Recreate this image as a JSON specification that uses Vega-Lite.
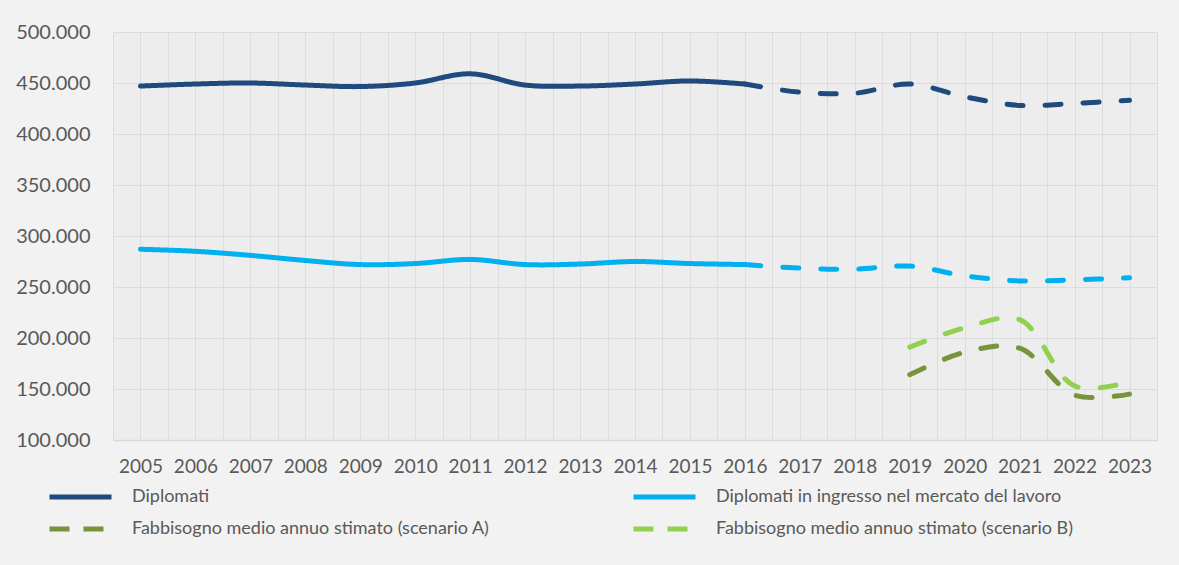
{
  "$schema": "https://vega.github.io/schema/vega-lite/v6.json",
  "width": 1044,
  "height": 408,
  "autosize": {"type": "none"},
  "padding": {"left": 113, "top": 32, "right": 22, "bottom": 125},
  "background": "#f2f2f2",
  "config": {
    "locale": {"number": {"decimal": ",", "thousands": ".", "grouping": [3], "currency": ["", " €"]}},
    "font": "Lato",
    "view": {"fill": "#ededed", "stroke": null},
    "axis": {"labelColor": "#595959", "labelFont": "Lato", "gridColor": "#dcdcdc", "gridWidth": 1}
  },
  "data": {
    "values": [
      {"year": 2005, "series": "Diplomati", "segment": "storico", "value": 447000},
      {"year": 2006, "series": "Diplomati", "segment": "storico", "value": 449000},
      {"year": 2007, "series": "Diplomati", "segment": "storico", "value": 450000},
      {"year": 2008, "series": "Diplomati", "segment": "storico", "value": 448000},
      {"year": 2009, "series": "Diplomati", "segment": "storico", "value": 446500},
      {"year": 2010, "series": "Diplomati", "segment": "storico", "value": 450000},
      {"year": 2011, "series": "Diplomati", "segment": "storico", "value": 459000},
      {"year": 2012, "series": "Diplomati", "segment": "storico", "value": 448000},
      {"year": 2013, "series": "Diplomati", "segment": "storico", "value": 447000},
      {"year": 2014, "series": "Diplomati", "segment": "storico", "value": 449000},
      {"year": 2015, "series": "Diplomati", "segment": "storico", "value": 452000},
      {"year": 2016, "series": "Diplomati", "segment": "storico", "value": 449000},
      {"year": 2016, "series": "Diplomati", "segment": "previsione", "value": 449000},
      {"year": 2017, "series": "Diplomati", "segment": "previsione", "value": 441000},
      {"year": 2018, "series": "Diplomati", "segment": "previsione", "value": 440000},
      {"year": 2019, "series": "Diplomati", "segment": "previsione", "value": 449000},
      {"year": 2020, "series": "Diplomati", "segment": "previsione", "value": 436500},
      {"year": 2021, "series": "Diplomati", "segment": "previsione", "value": 428000},
      {"year": 2022, "series": "Diplomati", "segment": "previsione", "value": 430000},
      {"year": 2023, "series": "Diplomati", "segment": "previsione", "value": 433000},
      {"year": 2005, "series": "Diplomati in ingresso nel mercato del lavoro", "segment": "storico", "value": 287000},
      {"year": 2006, "series": "Diplomati in ingresso nel mercato del lavoro", "segment": "storico", "value": 285000},
      {"year": 2007, "series": "Diplomati in ingresso nel mercato del lavoro", "segment": "storico", "value": 281000},
      {"year": 2008, "series": "Diplomati in ingresso nel mercato del lavoro", "segment": "storico", "value": 276000},
      {"year": 2009, "series": "Diplomati in ingresso nel mercato del lavoro", "segment": "storico", "value": 272000},
      {"year": 2010, "series": "Diplomati in ingresso nel mercato del lavoro", "segment": "storico", "value": 273000},
      {"year": 2011, "series": "Diplomati in ingresso nel mercato del lavoro", "segment": "storico", "value": 277000},
      {"year": 2012, "series": "Diplomati in ingresso nel mercato del lavoro", "segment": "storico", "value": 272000},
      {"year": 2013, "series": "Diplomati in ingresso nel mercato del lavoro", "segment": "storico", "value": 272500},
      {"year": 2014, "series": "Diplomati in ingresso nel mercato del lavoro", "segment": "storico", "value": 275000},
      {"year": 2015, "series": "Diplomati in ingresso nel mercato del lavoro", "segment": "storico", "value": 273000},
      {"year": 2016, "series": "Diplomati in ingresso nel mercato del lavoro", "segment": "storico", "value": 272000},
      {"year": 2016, "series": "Diplomati in ingresso nel mercato del lavoro", "segment": "previsione", "value": 272000},
      {"year": 2017, "series": "Diplomati in ingresso nel mercato del lavoro", "segment": "previsione", "value": 268500},
      {"year": 2018, "series": "Diplomati in ingresso nel mercato del lavoro", "segment": "previsione", "value": 267500},
      {"year": 2019, "series": "Diplomati in ingresso nel mercato del lavoro", "segment": "previsione", "value": 270500},
      {"year": 2020, "series": "Diplomati in ingresso nel mercato del lavoro", "segment": "previsione", "value": 261000},
      {"year": 2021, "series": "Diplomati in ingresso nel mercato del lavoro", "segment": "previsione", "value": 256000},
      {"year": 2022, "series": "Diplomati in ingresso nel mercato del lavoro", "segment": "previsione", "value": 257000},
      {"year": 2023, "series": "Diplomati in ingresso nel mercato del lavoro", "segment": "previsione", "value": 259000},
      {"year": 2019, "series": "Fabbisogno medio annuo stimato (scenario A)", "segment": "previsione", "value": 164000},
      {"year": 2020, "series": "Fabbisogno medio annuo stimato (scenario A)", "segment": "previsione", "value": 186000},
      {"year": 2021, "series": "Fabbisogno medio annuo stimato (scenario A)", "segment": "previsione", "value": 190000},
      {"year": 2022, "series": "Fabbisogno medio annuo stimato (scenario A)", "segment": "previsione", "value": 144000},
      {"year": 2023, "series": "Fabbisogno medio annuo stimato (scenario A)", "segment": "previsione", "value": 145000},
      {"year": 2019, "series": "Fabbisogno medio annuo stimato (scenario B)", "segment": "previsione", "value": 191000},
      {"year": 2020, "series": "Fabbisogno medio annuo stimato (scenario B)", "segment": "previsione", "value": 210000},
      {"year": 2021, "series": "Fabbisogno medio annuo stimato (scenario B)", "segment": "previsione", "value": 218000},
      {"year": 2022, "series": "Fabbisogno medio annuo stimato (scenario B)", "segment": "previsione", "value": 153000},
      {"year": 2023, "series": "Fabbisogno medio annuo stimato (scenario B)", "segment": "previsione", "value": 157000}
    ]
  },
  "mark": {"type": "line", "interpolate": "catmull-rom", "strokeWidth": 5, "strokeCap": "round", "clip": false},
  "encoding": {
    "x": {
      "field": "year",
      "type": "quantitative",
      "scale": {"domain": [2004.5, 2023.5], "nice": false, "zero": false},
      "axis": {
        "title": null,
        "values": [2004.5, 2005, 2005.5, 2006, 2006.5, 2007, 2007.5, 2008, 2008.5, 2009, 2009.5, 2010, 2010.5, 2011, 2011.5, 2012, 2012.5, 2013, 2013.5, 2014, 2014.5, 2015, 2015.5, 2016, 2016.5, 2017, 2017.5, 2018, 2018.5, 2019, 2019.5, 2020, 2020.5, 2021, 2021.5, 2022, 2022.5, 2023, 2023.5],
        "labelExpr": "datum.value % 1 == 0 ? '' + datum.value : ''",
        "labelOverlap": false,
        "labelFlush": false,
        "labelFontSize": 19,
        "labelPadding": 17,
        "ticks": false,
        "domain": true,
        "domainColor": "#d9d9d9",
        "domainWidth": 1.5,
        "grid": true
      }
    },
    "y": {
      "field": "value",
      "type": "quantitative",
      "scale": {"domain": [100000, 500000], "nice": false, "zero": false},
      "axis": {
        "title": null,
        "values": [100000, 150000, 200000, 250000, 300000, 350000, 400000, 450000, 500000],
        "format": ",.0f",
        "labelFontSize": 20,
        "labelPadding": 23,
        "ticks": false,
        "domain": false,
        "grid": true
      }
    },
    "color": {
      "field": "series",
      "type": "nominal",
      "sort": null,
      "scale": {
        "domain": ["Diplomati", "Diplomati in ingresso nel mercato del lavoro", "Fabbisogno medio annuo stimato (scenario A)", "Fabbisogno medio annuo stimato (scenario B)"],
        "range": ["#1F4A7E", "#00B0F0", "#77933C", "#92D050"]
      },
      "legend": {
        "title": null,
        "orient": "none",
        "legendX": -66,
        "legendY": 455,
        "direction": "horizontal",
        "columns": 2,
        "columnPadding": 141,
        "rowPadding": 12,
        "clipHeight": 20,
        "padding": 0,
        "symbolType": "stroke",
        "symbolSize": 3844,
        "symbolStrokeWidth": 5,
        "labelFontSize": 18,
        "labelFont": "Lato",
        "labelColor": "#595959",
        "labelOffset": 18,
        "labelLimit": 600,
        "encode": {
          "symbols": {
            "update": {
              "strokeDash": {"signal": "indexof(datum.value, 'Fabbisogno') >= 0 ? [20, 14] : [1, 0]"}
            }
          }
        }
      }
    },
    "strokeDash": {
      "field": "segment",
      "type": "nominal",
      "scale": {"domain": ["storico", "previsione"], "range": [[1, 0], [16, 22]]},
      "legend": null
    },
    "detail": {"field": "segment"}
  }
}
